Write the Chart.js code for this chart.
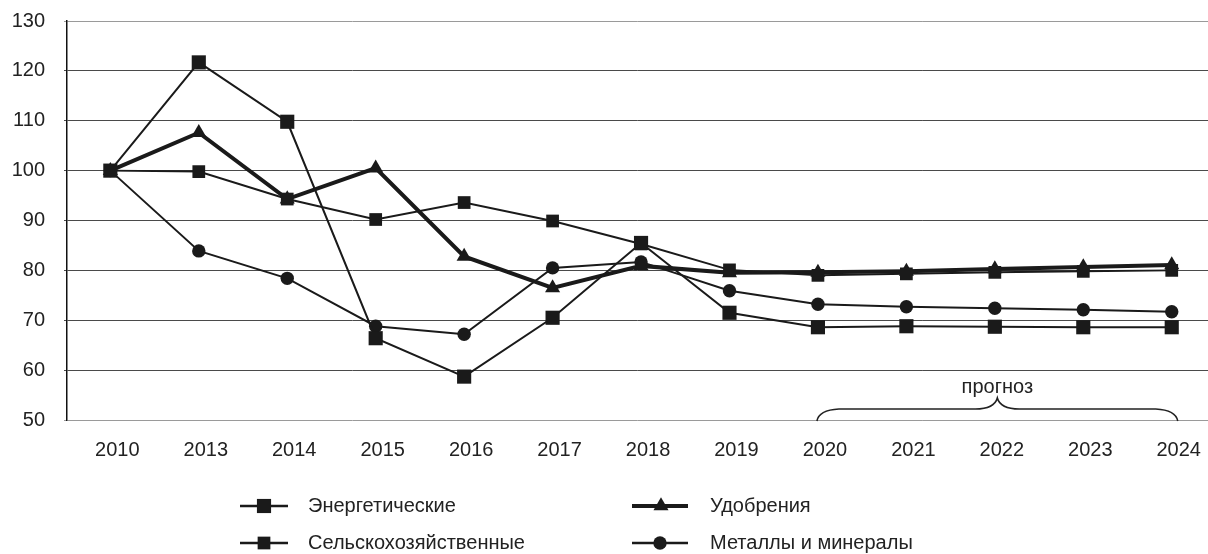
<!DOCTYPE html>
<html lang="ru">
<head>
<meta charset="utf-8">
<title>Индексы цен</title>
<script src="https://cdn.jsdelivr.net/npm/chart.js@4.4.1/dist/chart.umd.min.js"></script>
<style>
  html,body{ margin:0; padding:0; background:#fff; }
  #wrap{ width:1208px; height:554px; }
</style>
</head>
<body>
<div id="wrap"><canvas id="chart" width="1208" height="554"></canvas></div>
<script>
// ---- data
const years  = ['2010','2013','2014','2015','2016','2017','2018','2019','2020','2021','2022','2023','2024'];
const energy = [100, 121.7, 109.8, 66.4, 58.7, 70.5, 85.5, 71.5, 68.6, 68.8, 68.7, 68.6, 68.6];
const agri   = [100, 99.8, 94.3, 90.2, 93.6, 89.9, 85.3, 80.1, 79.0, 79.3, 79.6, 79.8, 80.0];
const fert   = [100, 107.6, 94.3, 100.5, 82.8, 76.5, 80.9, 79.5, 79.6, 79.8, 80.3, 80.7, 81.1];
const metals = [100, 83.9, 78.4, 68.8, 67.2, 80.5, 81.7, 75.9, 73.2, 72.7, 72.4, 72.1, 71.7];
const yTicks = [50, 60, 70, 80, 90, 100, 110, 120, 130];
const forecastFrom = 8, forecastTo = 12;   // 2020 … 2024
const forecastLabel = 'прогноз';

const FONT = "'Liberation Sans', Arial, sans-serif";
const INK  = '#1a1a1a';
const pts  = arr => arr.map((v,i)=>({x:i, y:v}));

function series(label, data, style, radius, width){
  return {
    label, data: pts(data),
    borderColor: INK, backgroundColor: INK, borderWidth: width,
    pointStyle: style, pointRadius: radius, pointHoverRadius: radius,
    pointBackgroundColor: INK, pointBorderColor: INK, pointBorderWidth: 0,
    tension: 0
  };
}

// legend slots: [line from, line to, marker x, text x, y]
const legendSlots = [
  [240, 288, 264, 308, 506],   // Энергетические
  [240, 288, 264, 308, 543],   // Сельскохозяйственные
  [632, 688, 661, 710, 506],   // Удобрения
  [632, 688, 660, 710, 543],   // Металлы и минералы
];

const legendPlugin = {
  id:'boxLegend',
  afterDraw(chart){
    const ctx = chart.ctx;
    chart.data.datasets.forEach((ds, i)=>{
      const [x1, x2, mx, tx, y] = legendSlots[i];
      ctx.save();
      ctx.strokeStyle = INK; ctx.fillStyle = INK;
      ctx.lineWidth = ds.borderWidth > 3 ? 4 : 2.5;
      ctx.beginPath(); ctx.moveTo(x1, y); ctx.lineTo(x2, y); ctx.stroke();
      Chart.helpers.drawPoint(ctx, {pointStyle: ds.pointStyle, radius: ds.pointRadius, rotation: 0, borderWidth: 0}, mx, y);
      ctx.fillStyle = '#222';
      ctx.font = `20px ${FONT}`;
      ctx.textBaseline = 'middle';
      ctx.fillText(ds.label, tx, y);
      ctx.restore();
    });
  }
};

const bracePlugin = {
  id:'forecastBrace',
  afterDraw(chart){
    const {ctx, scales:{x, y}} = chart;
    const L = x.getPixelForValue(forecastFrom) - 1;
    const R = x.getPixelForValue(forecastTo) + 6;
    const M = (L + R) / 2;
    const B = y.getPixelForValue(50) + 1;
    ctx.save();
    ctx.strokeStyle = '#222'; ctx.lineWidth = 1.6;
    ctx.beginPath();
    ctx.moveTo(L, B);
    ctx.quadraticCurveTo(L + 2, B - 11, L + 22, B - 12);
    ctx.lineTo(M - 22, B - 12);
    ctx.quadraticCurveTo(M - 3, B - 12, M, B - 23);
    ctx.quadraticCurveTo(M + 3, B - 12, M + 22, B - 12);
    ctx.lineTo(R - 22, B - 12);
    ctx.quadraticCurveTo(R - 2, B - 11, R, B);
    ctx.stroke();
    ctx.fillStyle = '#222';
    ctx.font = `20px ${FONT}`;
    ctx.textAlign = 'center';
    ctx.textBaseline = 'alphabetic';
    ctx.fillText(forecastLabel, M, B - 28);
    ctx.restore();
  }
};

new Chart(document.getElementById('chart'), {
  type:'line',
  data:{ datasets:[
    series('Энергетические',       energy, 'rect',     10,  2),
    series('Сельскохозяйственные', agri,   'rect',     9,   2),
    series('Удобрения',            fert,   'triangle', 8.7, 4),
    series('Металлы и минералы',   metals, 'circle',   6.7, 2),
  ]},
  options:{
    responsive:false,
    animation:false,
    layout:{ autoPadding:false, padding:{ top:21, right:0, bottom:92, left:0 } },
    plugins:{ legend:{ display:false }, tooltip:{ enabled:false } },
    scales:{
      x:{
        type:'linear', min:-0.49, max:12.41,
        grid:{ display:false, drawTicks:false },
        border:{ display:false },
        afterFit: s => { s.height = 42; s.paddingLeft = 0; s.paddingRight = 0; },
        ticks:{
          stepSize:1, includeBounds:false, autoSkip:false, maxRotation:0,
          padding:18, labelOffset:7, color:'#222', font:{ family:FONT, size:20 },
          callback: v => Number.isInteger(v) ? (years[v] ?? '') : ''
        }
      },
      y:{
        min:50, max:130,
        afterFit: s => { s.width = 67; s.paddingTop = 0; s.paddingBottom = 0; },
        afterBuildTicks: s => { s.ticks = yTicks.map(v=>({value:v})); },
        grid:{
          color: c => (c.tick && (c.tick.value === 130 || c.tick.value === 50)) ? '#9a9a9a' : '#4a4a4a',
          lineWidth:1, tickLength:3, drawTicks:true
        },
        border:{ display:true, color:'#111', width:1.5 },
        ticks:{ padding:19, color:'#222', font:{ family:FONT, size:20 } }
      }
    }
  },
  plugins:[legendPlugin, bracePlugin]
});
</script>
</body>
</html>
